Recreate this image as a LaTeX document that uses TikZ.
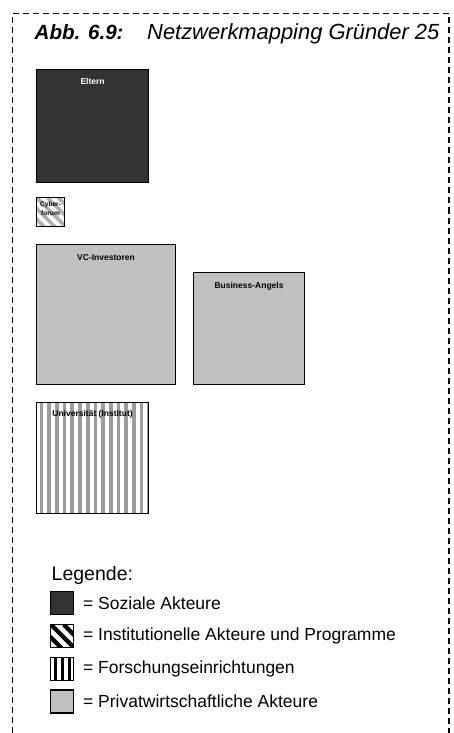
\documentclass[tikz,border=0pt]{standalone}
\usepackage{fontspec}
\setmainfont{Liberation Sans}
\usetikzlibrary{positioning}
\definecolor{sozialgrau}{HTML}{333333}
\definecolor{privatgrau}{HTML}{C0C0C0}
\definecolor{streifengrau}{HTML}{9C9C9C}

\begin{document}
\begin{tikzpicture}[
  x=1pt, y=-1pt,
  node distance=8pt,
  actor/.style={draw, line width=1.1pt, anchor=north west, inner sep=0pt},
  sozial/.style={actor, fill=sozialgrau},
  privat/.style={actor, fill=privatgrau},
  diagstreifen/.style 2 args={fill=white, path picture={
      \foreach \k in {-8,...,8}
        \draw[#1, line width=#2]
          ([xshift=\k*3*#2]path picture bounding box.north west) -- ++(80pt,-80pt);}},
  vertstreifen/.style 2 args={fill=white, path picture={
      \foreach \k in {0,...,16}
        \fill[#1] ([xshift=\k*#2+0.4*#2]path picture bounding box.north west)
          rectangle ++(0.48*#2,-200pt);}},
  boxtext/.style={font=\fontsize{8.5}{10}\selectfont\bfseries, inner sep=0pt},
  legsym/.style={draw, line width=1.1pt, minimum size=23pt, inner sep=0pt},
  legtext/.style={font=\fontsize{17.5}{20}\selectfont, inner sep=0pt}
]
% rahmen, unten offen
\useasboundingbox (0,0) rectangle (453,733);
\draw[line width=1.2pt, dash pattern=on 6pt off 4pt]
  (12.5,733) -- (12.5,13.5) -- (449,13.5) -- (449,733);

% titel
\node[font=\fontsize{20.6}{24}\selectfont\bfseries\itshape, anchor=base west, inner sep=0pt]
  (abb) at (34.5,39.5) {Abb. 6.9:};
\node[font=\fontsize{21.9}{26}\selectfont\itshape, anchor=base west, inner sep=0pt]
  (titel) at (147,39.5) {Netzwerkmapping Gründer 25};

% akteure
\node[sozial, minimum width=112pt, minimum height=113pt] (eltern) at (36,69) {};
\node[boxtext, text=white, below=9pt of eltern.north] (elternlbl) {Eltern};

\node[actor, diagstreifen={streifengrau!80}{3.6pt}, minimum width=28pt, minimum height=29pt]
  (cyber) at (36,197) {};
\node[font=\fontsize{6.6}{8.5}\selectfont\bfseries, align=center, inner sep=0pt,
  below=5pt of cyber.north] (cyberlbl) {Cyber-\\forum};

\node[privat, minimum width=139pt, minimum height=140pt] (vc) at (36,244) {};
\node[boxtext, below=10pt of vc.north] (vclbl) {VC-Investoren};

\node[privat, minimum width=111pt, minimum height=112pt] (angels) at (193,272) {};
\node[boxtext, below=10pt of angels.north] (angelslbl) {Business-Angels};

\node[actor, vertstreifen={streifengrau}{7.7pt}, minimum width=112pt, minimum height=111pt]
  (uni) at (36,402) {};
\node[boxtext, below=8pt of uni.north] (unilbl) {Universität (Institut)};

% legende
\node[font=\fontsize{19.5}{22}\selectfont, anchor=base west, inner sep=0pt]
  (legende) at (51.5,580) {Legende:};
\node[legsym, fill=sozialgrau] (leg1) at (62.4,603.4) {};
\node[legsym, diagstreifen={black}{4.3pt}, below=8.6pt of leg1] (leg2) {};
\node[legsym, vertstreifen={black}{7pt}, below=8.6pt of leg2] (leg3) {};
\node[legsym, fill=privatgrau, below=8.6pt of leg3] (leg4) {};
\node[legtext, right=8.5pt of leg1] (leg1txt) {= Soziale Akteure};
\node[legtext, right=8.5pt of leg2] (leg2txt) {= Institutionelle Akteure und Programme};
\node[legtext, right=8.5pt of leg3] (leg3txt) {= Forschungseinrichtungen};
\node[legtext, right=8.5pt of leg4] (leg4txt) {= Privatwirtschaftliche Akteure};
\end{tikzpicture}
\end{document}
